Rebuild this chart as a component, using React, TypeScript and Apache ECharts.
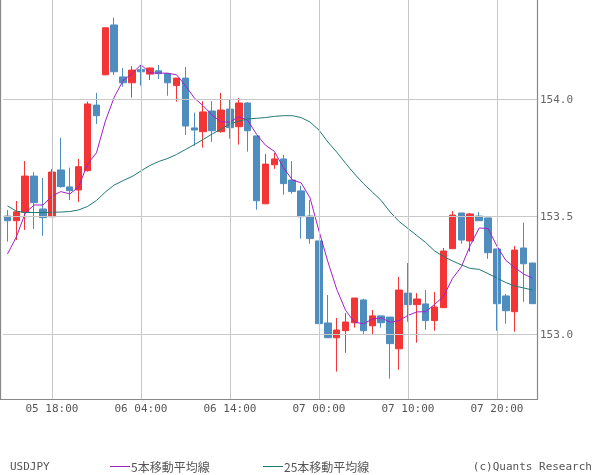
import React, { useEffect, useRef } from "react";
import * as echarts from "echarts";

const opens = [
  153.502, 153.482, 153.518, 153.672, 153.532, 153.499, 153.698, 153.626, 153.613, 153.695,
  153.974, 154.103, 154.315, 154.094, 154.069, 154.125, 154.106, 154.120, 154.108, 154.057,
  154.089, 153.877, 153.861, 153.949, 153.861, 153.957, 153.882, 153.983, 153.843, 153.554,
  153.720, 153.745, 153.655, 153.609, 153.502, 153.396, 153.047, 152.984, 153.014, 153.048,
  153.145, 153.035, 153.077, 153.072, 152.937, 153.174, 153.125, 153.128, 153.057, 153.112,
  153.363, 153.515, 153.396, 153.502, 153.494, 153.362, 153.162, 153.095, 153.366, 153.302,
];
const closes = [
  153.482, 153.520, 153.672, 153.559, 153.495, 153.689, 153.627, 153.610, 153.712, 153.979,
  153.929, 154.303, 154.116, 154.069, 154.123, 154.116, 154.132, 154.108, 154.069, 154.089,
  153.885, 153.868, 153.945, 153.865, 153.953, 153.878, 153.983, 153.865, 153.567, 153.723,
  153.745, 153.640, 153.606, 153.499, 153.406, 153.044, 152.984, 153.017, 153.051, 153.153,
  153.014, 153.077, 153.048, 152.959, 153.187, 153.125, 153.149, 153.057, 153.115, 153.353,
  153.506, 153.400, 153.511, 153.482, 153.346, 153.129, 153.099, 153.357, 153.299, 153.129,
];
const lows = [
  153.393, 153.400, 153.443, 153.447, 153.418, 153.499, 153.623, 153.570, 153.562, 153.691,
  153.894, 154.101, 154.102, 154.052, 154.006, 154.057, 154.081, 154.085, 154.014, 153.989,
  153.847, 153.801, 153.793, 153.818, 153.857, 153.831, 153.806, 153.776, 153.529, 153.554,
  153.703, 153.593, 153.597, 153.406, 153.384, 153.044, 152.984, 152.840, 152.920, 153.027,
  152.997, 152.997, 153.027, 152.810, 152.848, 153.052, 152.963, 153.018, 153.014, 153.112,
  153.363, 153.384, 153.350, 153.482, 153.320, 153.014, 153.044, 153.010, 153.137, 153.129,
];
const highs = [
  153.528, 153.566, 153.736, 153.689, 153.664, 153.702, 153.835, 153.708, 153.745, 153.989,
  154.026, 154.305, 154.346, 154.132, 154.140, 154.145, 154.134, 154.145, 154.108, 154.089,
  154.136, 153.942, 153.991, 153.991, 154.026, 154.000, 154.004, 153.987, 153.843, 153.766,
  153.770, 153.762, 153.736, 153.631, 153.570, 153.396, 153.166, 153.068, 153.089, 153.153,
  153.150, 153.102, 153.077, 153.072, 153.243, 153.302, 153.174, 153.187, 153.179, 153.366,
  153.523, 153.515, 153.515, 153.519, 153.494, 153.362, 153.170, 153.374, 153.474, 153.302,
];
const ma5 = [
  153.340, 153.413, 153.515, 153.549, 153.549, 153.587, 153.606, 153.596, 153.626, 153.723,
  153.771, 153.906, 154.008, 154.079, 154.108, 154.146, 154.111, 154.110, 154.110, 154.103,
  154.057, 154.004, 153.971, 153.931, 153.903, 153.902, 153.925, 153.909, 153.849, 153.803,
  153.777, 153.708, 153.656, 153.643, 153.579, 153.439, 153.308, 153.190, 153.100, 153.050,
  153.044, 153.063, 153.069, 153.050, 153.057, 153.079, 153.094, 153.095, 153.126, 153.160,
  153.236, 153.286, 153.377, 153.451, 153.449, 153.374, 153.313, 153.283, 153.255, 153.238,
];
const ma25 = [
  153.545, 153.523, 153.517, 153.517, 153.517, 153.518, 153.519, 153.521, 153.528, 153.543,
  153.568, 153.604, 153.634, 153.653, 153.670, 153.694, 153.717, 153.734, 153.747, 153.764,
  153.785, 153.806, 153.828, 153.851, 153.872, 153.894, 153.906, 153.915, 153.918, 153.921,
  153.926, 153.929, 153.929, 153.921, 153.902, 153.868, 153.817, 153.774, 153.726, 153.681,
  153.640, 153.604, 153.568, 153.519, 153.479, 153.449, 153.419, 153.389, 153.353, 153.330,
  153.311, 153.294, 153.279, 153.275, 153.257, 153.238, 153.219, 153.204, 153.196, 153.187,
];
const yTicks = [153.0, 153.5, 154.0];
const startDay = 5;
const startHour = 13;
const categories: string[] = opens.map((_, i) => {
  const h = startHour + i;
  const d = startDay + Math.floor(h / 24);
  const hh = h % 24;
  return `${String(d).padStart(2, "0")} ${String(hh).padStart(2, "0")}:00`;
});
const gridCats = categories.filter((_, i) => i % 10 === 5);

const UP = "#f33535";
const DOWN = "#4f8dbf";
const MA5C = "#a020c8";
const MA25C = "#1f7a74";
const MONO = "'DejaVu Sans Mono', monospace";
const CJK = "'Noto Sans CJK JP', sans-serif";

export default function App() {
  const ref = useRef<HTMLDivElement>(null);
  useEffect(() => {
    if (!ref.current) return;
    document.body.style.margin = "0";
    const chart = echarts.init(ref.current, undefined, { renderer: "svg" });
    chart.setOption({
      animation: false,
      grid: { left: 3, right: 63, top: 0, bottom: 76 },
      xAxis: {
        type: "category",
        data: categories,
        boundaryGap: true,
        axisLine: { show: false },
        axisTick: { show: false },
        splitLine: { show: false },
        axisLabel: {
          interval: (i: number) => i % 10 === 5,
          color: "#555",
          fontFamily: MONO,
          fontSize: 11,
          margin: 4,
        },
      },
      yAxis: {
        type: "value",
        position: "right",
        min: 152.7234,
        max: 154.4213,
        splitLine: { show: false },
        axisLine: { show: false },
        axisTick: { show: false },
        axisLabel: {
          customValues: yTicks,
          formatter: (v: number) => v.toFixed(1),
          color: "#666",
          fontFamily: MONO,
          fontSize: 11,
          margin: 3,
          padding: [6, 0, 0, 0],
        },
      },
      series: [
        {
          type: "line",
          data: [],
          z: 1,
          silent: true,
          markLine: {
            silent: true,
            symbol: ["none", "none"],
            label: { show: false },
            lineStyle: { color: "#c8c8c8", type: "solid", width: 1 },
            data: [
              ...gridCats.map((c) => ({ xAxis: c })),
              ...yTicks.map((v) => ({ yAxis: v })),
            ],
          },
        },
        {
          type: "candlestick",
          z: 3,
          barWidth: 7,
          data: opens.map((o, i) => [o, closes[i], lows[i], highs[i]]),
          itemStyle: {
            color: UP,
            color0: DOWN,
            borderColor: UP,
            borderColor0: DOWN,
            borderWidth: 1,
          },
        },
        {
          type: "line",
          z: 4,
          data: ma5,
          symbol: "none",
          lineStyle: { color: MA5C, width: 1 },
        },
        {
          type: "line",
          z: 4,
          data: ma25,
          symbol: "none",
          lineStyle: { color: MA25C, width: 1 },
        },
      ],
      graphic: [
        {
          type: "polyline",
          shape: { points: [[0.5, 0], [0.5, 399.5], [537.5, 399.5], [537.5, 0]] },
          style: { stroke: "#888", lineWidth: 1.2, fill: "none" },
          z: 10,
        },
        {
          type: "text",
          x: 10,
          y: 466,
          style: { text: "USDJPY", fill: "#555", font: `11px ${MONO}`, verticalAlign: "middle" },
        },
        {
          type: "line",
          shape: { x1: 110, y1: 466.5, x2: 130, y2: 466.5 },
          style: { stroke: MA5C, lineWidth: 1 },
        },
        {
          type: "text",
          x: 131,
          y: 466,
          style: { text: "5本移動平均線", fill: "#555", font: `12px ${CJK}`, verticalAlign: "middle" },
        },
        {
          type: "line",
          shape: { x1: 263, y1: 466.5, x2: 283, y2: 466.5 },
          style: { stroke: MA25C, lineWidth: 1 },
        },
        {
          type: "text",
          x: 284,
          y: 466,
          style: { text: "25本移動平均線", fill: "#555", font: `12px ${CJK}`, verticalAlign: "middle" },
        },
        {
          type: "text",
          x: 592,
          y: 466,
          style: {
            text: "(c)Quants Research",
            fill: "#555",
            font: `11px ${MONO}`,
            align: "right",
            verticalAlign: "middle",
          },
        },
      ],
    });
    return () => chart.dispose();
  }, []);
  return (
    <div
      ref={ref}
      style={{ position: "fixed", left: 0, top: 0, width: 600, height: 475 }}
    />
  );
}
